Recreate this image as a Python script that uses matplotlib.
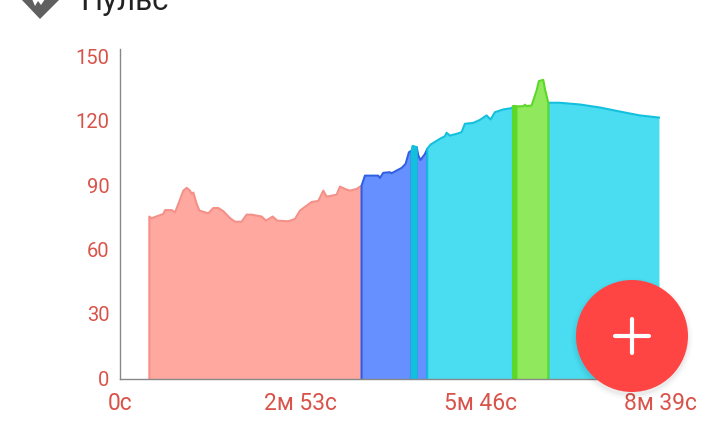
#!/usr/bin/env python
# -- coding: utf-8 --
"""Пульс по времени тренировки, зоны закрашены разным цветом
"""
import numpy as np
import matplotlib
matplotlib.use('Agg')
import matplotlib.pyplot as plt
from matplotlib.patches import Circle, Polygon
from matplotlib.transforms import ScaledTranslation

plt.rcParams['font.family'] = ['Roboto', 'DejaVu Sans']

# время в секундах
seconds = [28.2, 30.4, 35.2, 41.6, 43.3, 49.7, 52.9, 56.1, 60.9, 64.1, 67.3, 68.9, 70.5, 73.7, 76.3,
           84.9, 89.7, 94.5, 99.3, 105.7, 110.5, 116.9, 121.7, 126.5, 136.2, 140.3, 146.7, 151.2,
           161.8, 168.2, 173.0, 184.2, 190.6, 195.4, 198.6, 208.2, 211.4, 216.2, 221.0, 227.4,
           232.2, 235.4, 248.2, 249.8, 253.0, 259.4, 261.0, 270.7, 274.5, 277.7, 280.3, 281.2,
           285.1, 286.7, 288.9, 293.1, 295.3, 298.5, 307.5, 312.3, 313.9, 317.1, 323.5, 328.3,
           331.5, 339.5, 345.9, 352.3, 356.2, 360.3, 368.4, 376.4, 378.0, 381.0, 387.6, 389.2,
           390.8, 395.6, 400.4, 402.6, 406.8, 408.4, 411.6, 422.8, 442.0, 461.3, 480.5, 499.7, 518.0]
# пульс
pulse = [75.8, 75.0, 75.9, 77.0, 78.8, 78.8, 77.8, 81.7, 87.9, 89.2, 87.9, 86.4, 87.0, 81.7, 78.6,
         77.3, 79.8, 79.8, 78.3, 75.1, 73.4, 73.4, 76.7, 76.7, 75.8, 73.9, 75.8, 73.9,
         73.6, 74.7, 78.6, 82.6, 83.1, 87.9, 85.1, 86.0, 89.8, 88.7, 87.9, 88.7,
         90.2, 94.9, 94.9, 93.8, 96.2, 96.5, 96.0, 98.5, 100.4, 105.8, 106.6, 108.8,
         108.2, 104.3, 102.2, 105.0, 107.4, 109.4, 112.1, 113.3, 114.9, 113.6, 114.4, 115.2,
         119.1, 119.5, 120.9, 123.0, 121.1, 124.5, 125.8, 126.4, 127.2, 127.2, 127.3, 128.0,
         127.3, 127.6, 134.6, 139.0, 139.6, 135.4, 128.9, 128.9, 128.1, 126.7, 124.8, 123.0, 122.0]

zone_start = [28.2, 232.2, 280.3, 285.1, 295.3, 378.0, 381.0, 411.6]
zone_end = [232.2, 280.3, 285.1, 295.3, 378.0, 381.0, 411.6, 518.0]
zone_fill = ['#FFA8A0', '#6690FF', '#12C0DE', '#6690FF', '#4ADCF0', '#5CD828', '#90E85C', '#4ADCF0']
zone_line = ['#F49087', '#2F60E4', '#12C0DE', '#2F60E4', '#12C0DE', '#5CD828', '#5CD828', '#12C0DE']
# порядок рисования: узкая голубая и зелёные зоны идут поверх соседей
zone_order = [0, 1, 3, 4, 7, 2, 5, 6]

y_ticks = [0, 30, 60, 90, 120, 150]
x_ticks = [0, 173, 346, 519]
x_labels = ['0с', '2м 53с', '5м 46с', '8м 39с']

label_color = '#D9534A'
W, H = 720, 424

fig = plt.figure(figsize=(W / 100, H / 100), dpi=100)
ax = fig.add_axes([120 / W, (H - 379) / H, 540 / W, 330 / H])

t = np.array(seconds)
p = np.array(pulse)
for i in zone_order:
    m = (t >= zone_start[i]) & (t <= zone_end[i])
    ax.fill_between(t[m], 0, p[m], color=zone_fill[i], lw=0, zorder=2)
    # контур зоны, у последней зоны правого края нет
    if i == 7:
        ax.plot(np.r_[t[m][0], t[m]], np.r_[0, p[m]], color=zone_line[i], lw=1.5, zorder=2)
    else:
        ax.plot(np.r_[t[m][0], t[m], t[m][-1]], np.r_[0, p[m], 0], color=zone_line[i], lw=1.5,
                solid_joinstyle='round', zorder=2)

ax.set_xlim(0, 519)
ax.set_ylim(0, 154)
ax.set_xticks(x_ticks, x_labels)
ax.set_yticks(y_ticks)
ax.tick_params(length=0, labelcolor=label_color)
ax.tick_params(axis='y', pad=7.5, labelsize=14.5)
ax.tick_params(axis='x', pad=9, labelsize=16.5)
# подписи оси y чуть выше своих отметок
shift = ScaledTranslation(0, 1 / 100, fig.dpi_scale_trans)
for label in ax.get_yticklabels():
    label.set_transform(label.get_transform() + shift)
for side in ['top', 'right']:
    ax.spines[side].set_visible(False)
for side in ['left', 'bottom']:
    ax.spines[side].set_color('#888888')
    ax.spines[side].set_linewidth(1)
    ax.spines[side].set_zorder(4)

# верхний слой в пикселях: значок, заголовок и красная кнопка
top = fig.add_axes([0, 0, 1, 1], zorder=5)
top.set_xlim(0, W)
top.set_ylim(H, 0)
top.axis('off')
top.patch.set_alpha(0)

top.add_patch(Polygon([(21, -1), (40, 19), (60, -1)], closed=True, color='#606060', lw=0))
top.add_patch(Polygon([(32, -1), (35, 6), (38, 1), (41, 5), (45, -1)], closed=True, color='#FFFFFF', lw=0))
top.text(80, 10, 'Пульс', fontsize=22.5, color='#222222', va='baseline', ha='left')

for r, a in zip([61, 59, 57], [0.015, 0.025, 0.04]):
    top.add_patch(Circle((632, 339), r, color='#000000', alpha=a, lw=0))
top.add_patch(Circle((632, 336), 56, color='#FF4444', lw=0))
top.plot([615, 649], [336, 336], color='white', lw=3, solid_capstyle='round')
top.plot([632, 632], [319, 353], color='white', lw=3, solid_capstyle='round')

plt.savefig('out.png', dpi=100)
